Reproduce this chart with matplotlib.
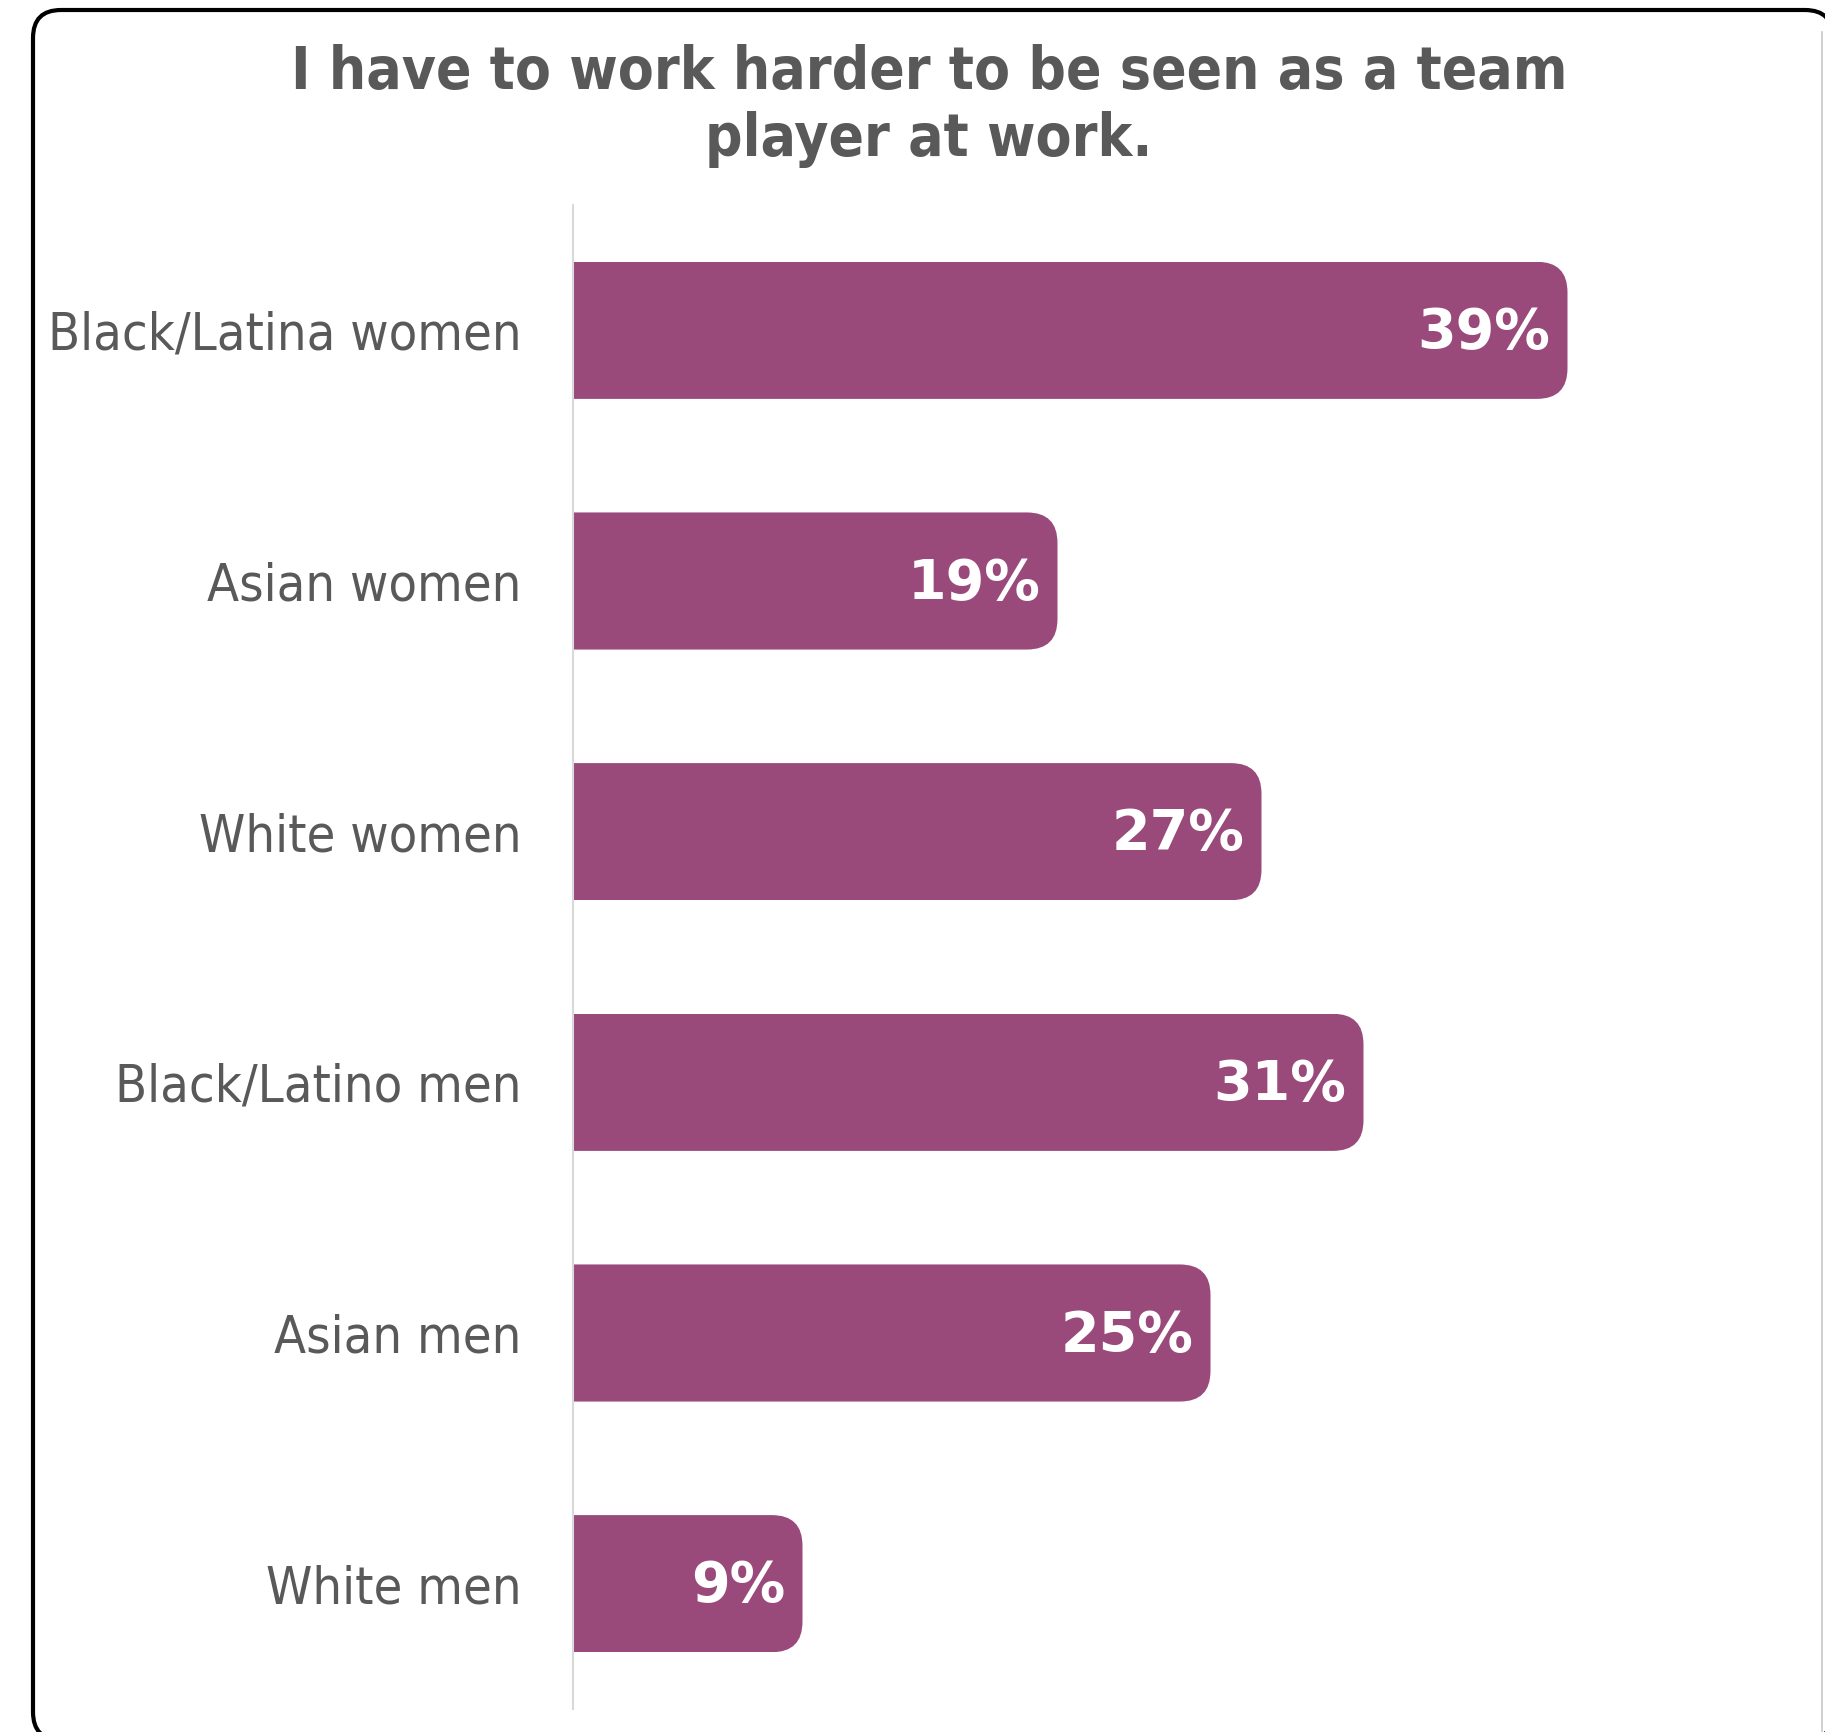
import matplotlib
matplotlib.use("Agg")
from matplotlib import pyplot as plt
from matplotlib.patches import FancyBboxPatch
from matplotlib.lines import Line2D
from matplotlib.transforms import IdentityTransform
import numpy as np

plt.rcParams['font.family'] = ['DejaVu Sans']

# survey answers
groups = ['Black/Latina women', 'Asian women', 'White women',
          'Black/Latino men', 'Asian men', 'White men']
shares = [39, 19, 27, 31, 25, 9]
title = "I have to work harder to be seen as a team\nplayer at work."

bar_color = '#994a7b'
text_gray = '#595959'

W, H = 1825, 1732
fig = plt.figure(figsize=(W / 100, H / 100), dpi=100)
fig.patch.set_facecolor('white')

# outer rounded frame (runs past the right and bottom edges)
frame = FancyBboxPatch((33, -8), 1800, 1722 + 8, boxstyle="round,pad=0,rounding_size=28",
                       transform=IdentityTransform(), facecolor='white',
                       edgecolor='black', linewidth=3.0, zorder=0)
fig.add_artist(frame)
fig.add_artist(Line2D([1822 / W, 1822 / W], [0, 1 - 32 / H], color='#c8c8c8', lw=1.2))

ax = fig.add_axes([573 / W, 1 - 1709 / H, (1800 - 573) / W, (1709 - 205) / H])
ax.set_facecolor('none')
px_per_unit = 25.5
xmax = (1800 - 573) / px_per_unit
ax.set_xlim(0, xmax)
ax.set_ylim(len(groups) - 0.5, -0.5)

pos = np.arange(len(groups))
bar_h = 0.547
rad = 1.2  # corner radius in x data units
aspect = (1 / 250.7) / (1 / px_per_unit)

bars = ax.barh(pos, shares, height=bar_h, color=bar_color, zorder=2)
for bar, y, v in zip(bars, pos, shares):
    # clip each bar to a rounded box whose left corners sit outside the axes
    clip = FancyBboxPatch((-3, y - bar_h / 2), v + 3, bar_h,
                          boxstyle="round,pad=0,rounding_size=%f" % rad,
                          mutation_aspect=aspect, transform=ax.transData)
    bar.set_clip_path(clip)
    ax.text(v - 0.67, y + 0.01, "%d%%" % v, ha='right', va='center',
            color='white', fontsize=40, fontweight='bold', zorder=3)

ax.set_yticks(pos)
ax.set_yticklabels(groups, fontsize=37.5, color=text_gray, fontstretch='condensed')
ax.tick_params(axis='y', length=0, pad=37)
ax.set_xticks([])
for s in ['top', 'right', 'bottom']:
    ax.spines[s].set_visible(False)
ax.spines['left'].set_color('#d9d9d9')
ax.spines['left'].set_linewidth(1.5)

fig.text(929 / W, 1 - 44 / H, title, ha='center', va='top', fontsize=42,
         fontweight='bold', color=text_gray, linespacing=1.22,
         fontstretch='condensed')

fig.savefig('out.png', dpi=100)
